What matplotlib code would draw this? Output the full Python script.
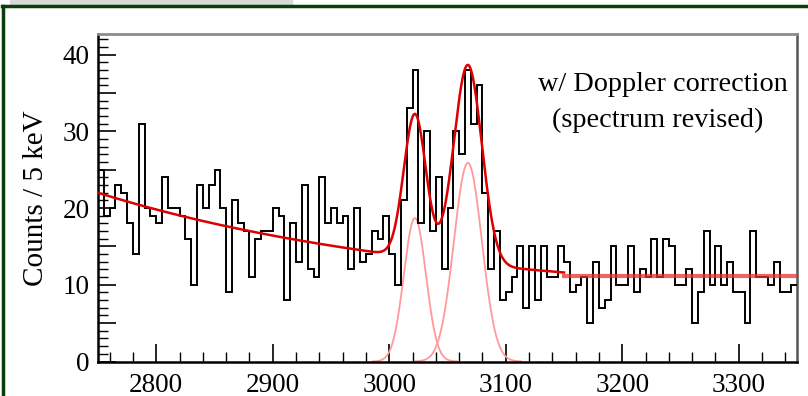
import numpy as np
import matplotlib
matplotlib.use("Agg")
import matplotlib.pyplot as plt
import matplotlib.ticker as ticker

# histogram: 5 keV bins, 2750 - 3350 keV
edges = np.arange(2750, 3355, 5)
counts = [25, 19, 20, 23, 22, 18, 14, 31, 20, 19,
          18, 24, 20, 20, 19, 16, 10, 23, 20, 23,
          25, 20, 9, 21, 18, 17, 11, 16, 17, 17,
          20, 19, 8, 18, 13, 23, 12, 11, 24, 18,
          20, 18, 19, 12, 20, 13, 14, 17, 16, 19,
          14, 10, 21, 33, 38, 18, 30, 17, 24, 12,
          20, 30, 27, 38, 31, 36, 22, 12, 17, 8,
          9, 11, 15, 7, 15, 8, 15, 11, 11, 15,
          13, 9, 10, 11, 5, 13, 7, 8, 15, 10,
          10, 15, 9, 12, 11, 16, 11, 16, 15, 10,
          10, 12, 5, 9, 17, 10, 15, 10, 13, 9,
          9, 5, 17, 11, 11, 10, 13, 9, 9, 10]

# fit parameters
bg_const, bg_amp, bg_tau = 8.0, 14.0, 295.0
peak_mu = [3022.0, 3067.5]
peak_amp = [18.7, 25.9]
peak_sig = [9.5, 12.0]
flat_level = 11.1
flat_start = 3150.0

label_line1 = "w/ Doppler correction"
label_line2 = "(spectrum revised)"

serif = ["Liberation Serif", "DejaVu Serif"]
plt.rcParams['font.family'] = serif


def bg(e):
    return bg_const + bg_amp*np.exp(-(e - 2750.0)/bg_tau)


def gaus(e, a, mu, s):
    return a*np.exp(-0.5*((e - mu)/s)**2)


fig = plt.figure(figsize=(8.08, 3.96), dpi=100)

# bits of the screenshot around the canvas
fig.patches.append(plt.Rectangle((0.012, 0.987), 0.35, 0.013, transform=fig.transFigure,
                                 color='#d8d8d8', zorder=0))
fig.add_artist(plt.Line2D([0.003, 1], [0.986, 0.986], transform=fig.transFigure,
                          color='#0b3d0b', lw=2.5))
fig.add_artist(plt.Line2D([0.004, 0.004], [0, 0.986], transform=fig.transFigure,
                          color='#0b3d0b', lw=2.5))

ax = fig.add_axes([0.1213, 0.0871, 0.8651, 0.827])

ax.stairs(counts, edges, baseline=None, color='black', lw=1.4, zorder=3)

e = np.linspace(2750, flat_start, 800)
total = bg(e) + gaus(e, peak_amp[0], peak_mu[0], peak_sig[0]) \
    + gaus(e, peak_amp[1], peak_mu[1], peak_sig[1])
ax.plot(e, total, color='#dd0000', lw=1.8, zorder=4)
ax.plot([flat_start, 3350], [flat_level, flat_level], color='#e83030',
        lw=3, alpha=0.75, zorder=4)

for a, mu, s in zip(peak_amp, peak_mu, peak_sig):
    ec = np.linspace(mu - 3.8*s, mu + 3.8*s, 200)
    ax.plot(ec, gaus(ec, a, mu, s), color='#ff9a9a', lw=1.3, zorder=2)

ax.set_xlim(2750, 3350)
ax.set_ylim(0, 42.7)

ax.xaxis.set_major_locator(ticker.MultipleLocator(100))
ax.xaxis.set_minor_locator(ticker.MultipleLocator(20))
ax.yaxis.set_major_locator(ticker.MultipleLocator(5))
ax.yaxis.set_minor_locator(ticker.MultipleLocator(1))
ax.yaxis.set_major_formatter(ticker.FuncFormatter(
    lambda v, p: "%d" % v if int(round(v)) % 10 == 0 else ""))

ax.tick_params(axis='both', which='both', direction='in', top=False, right=False,
               labelsize=19.5, color='black')
ax.tick_params(axis='x', which='major', length=13, width=1.2, pad=8)
ax.tick_params(axis='x', which='minor', length=7, width=1.0)
ax.tick_params(axis='y', which='major', length=13, width=1.2, pad=6)
ax.tick_params(axis='y', which='minor', length=7, width=1.0)

for s in ['left', 'bottom']:
    ax.spines[s].set_linewidth(1.8)
    ax.spines[s].set_color('black')
ax.spines['top'].set_color('#8c8c8c')
ax.spines['right'].set_color('#555555')
ax.spines['top'].set_linewidth(2)
ax.spines['right'].set_linewidth(1.8)

ax.set_ylabel("Counts / 5 keV", fontsize=21, labelpad=10)

ax.text(0.808, 0.846, label_line1, transform=ax.transAxes, fontsize=20.3,
        ha='center', va='center')
ax.text(0.800, 0.737, label_line2, transform=ax.transAxes, fontsize=20.3,
        ha='center', va='center')

plt.savefig('out.png', dpi=100)
